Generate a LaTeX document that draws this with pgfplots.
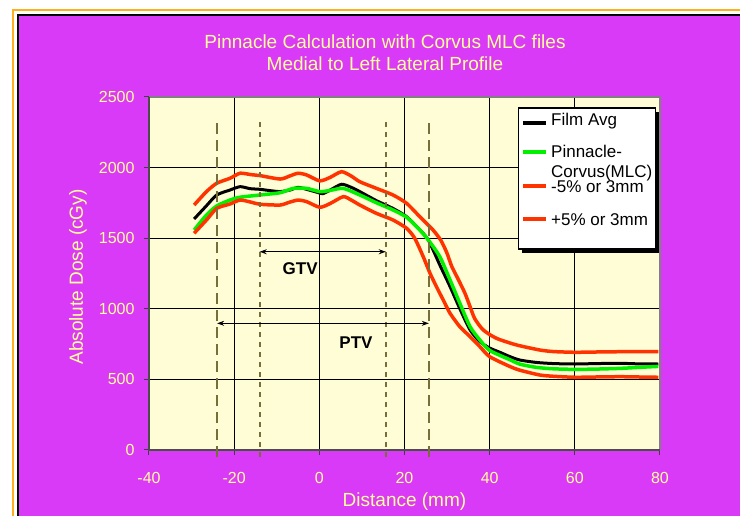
\documentclass[border=0pt]{standalone}
\usepackage{pgfplots}
\pgfplotsset{compat=1.18}
\usepackage{fontspec}
\setmainfont{Liberation Sans}
\usetikzlibrary{arrows.meta}
\definecolor{bgmag}{RGB}{217,58,248}
\definecolor{plotbg}{RGB}{255,253,213}
\definecolor{txtyel}{RGB}{255,255,153}
\definecolor{myred}{RGB}{255,51,0}
\definecolor{mygreen}{RGB}{0,240,0}
\definecolor{dashc}{RGB}{120,110,60}
\definecolor{bord}{RGB}{255,175,30}
\begin{document}
\begin{tikzpicture}
\useasboundingbox (0pt,0pt) rectangle (740pt,516pt);
\fill[white] (0pt,0pt) rectangle (740pt,516pt);
\draw[bord, line width=1.5pt] (13pt,-10pt) rectangle (760pt,506pt);
\fill[bgmag] (18pt,-10pt) rectangle (760pt,501pt);
\draw[black, line width=2.5pt] (18pt,-10pt) -- (18pt,501pt) -- (760pt,501pt);
\node[txtyel, font=\fontsize{19}{22}\selectfont, align=center] at (385pt,463pt) {Pinnacle Calculation with Corvus MLC files\\Medial to Left Lateral Profile};
\begin{axis}[
  at={(149pt,66pt)}, anchor=south west, scale only axis,
  width=511pt, height=353pt,
  xmin=-40, xmax=80, ymin=0, ymax=2500,
  xtick={-40,-20,...,80}, ytick={0,500,...,2500},
  grid=major, grid style={black, line width=0.7pt},
  axis background/.style={fill=plotbg},
  axis line style={draw=none},
  tick align=outside, tick pos=left, major tick length=5pt,
  tick style={draw=black!75, line width=1pt},
  ticklabel style={txtyel, font=\fontsize{16}{19}\selectfont},
  xticklabel style={yshift=-14pt},
  yticklabel style={xshift=-6pt},
  /pgf/number format/assume math mode=true,
  /pgf/number format/1000 sep={},
  xlabel={Distance (mm)}, ylabel={Absolute Dose (cGy)},
  xlabel style={at={(axis description cs:0.5,-0.145)}, anchor=center, txtyel, font=\fontsize{19}{22}\selectfont},
  ylabel style={at={(axis description cs:-0.139,0.49)}, anchor=center, txtyel, font=\fontsize{19}{22}\selectfont},
  clip=false,
]
\draw[black!50, line width=1.5pt] (rel axis cs:0,1) -- (rel axis cs:1,1) -- (rel axis cs:1,0);
\draw[black!70, line width=2pt] (rel axis cs:0,1) -- (rel axis cs:0,0) -- (rel axis cs:1,0);

\addplot[black, line width=3pt, smooth, tension=0.4] coordinates {
(-29.4,1636) (-26.5,1730) (-24.1,1806) (-21,1841) (-18.6,1865) (-16.3,1851) (-13.9,1846) (-11.6,1837) (-9.2,1830) (-6.9,1841) (-5,1860) (-3,1846) (-0.5,1825) (0.8,1815) (2.5,1840) (5.2,1882) (7.5,1860) (9.5,1830) (13.4,1766) (17.3,1711) (20.5,1652) (23.6,1558) (25.6,1487) (28.3,1310) (30.7,1157) (33,1000) (35.4,850) (37.7,767) (40,722) (42.4,692) (44.7,662) (47.1,637) (51,620) (55,612) (60,609) (65,612) (70.6,614) (75,610) (79.6,609)};
\addplot[mygreen, line width=3.5pt, smooth, tension=0.4] coordinates {
(-29.4,1558) (-26.5,1664) (-24.1,1728) (-21,1770) (-18.6,1790) (-13.9,1806) (-9.2,1822) (-6.1,1853) (-3,1853) (0.1,1830) (2.5,1838) (5.6,1853) (9.5,1806) (13.4,1751) (17.3,1700) (20.5,1648) (23.6,1558) (25.6,1487) (28.3,1369) (30.7,1204) (33,1039) (35.4,873) (37.7,779) (40,705) (44.7,640) (47.1,608) (51,585) (55,575) (60,571) (65,573) (70.6,578) (75,585) (79.6,592)};
\addplot[myred, line width=3.5pt, smooth, tension=0.4] coordinates {
(-29.4,1535) (-26.5,1629) (-24.1,1711) (-21,1742) (-18.6,1770) (-16,1755) (-13.9,1740) (-9.2,1735) (-7,1755) (-5,1770) (-3,1759) (0.1,1719) (2.5,1745) (5.6,1794) (7.5,1770) (9.5,1735) (13.4,1676) (17.3,1629) (20.5,1570) (22.4,1500) (24.4,1369) (26,1251) (27.5,1157) (29.1,1062) (30.7,968) (33,873) (35.4,803) (37.7,732) (40,661) (44.7,592) (47.1,565) (51.8,531) (55,522) (60,515) (65,517) (70.6,519) (75,517) (79.6,515)};
\addplot[myred, line width=3.5pt, smooth, tension=0.4] coordinates {
(-29.4,1735) (-26.5,1830) (-24.1,1889) (-21,1924) (-18.6,1960) (-16,1950) (-13.9,1943) (-9.2,1919) (-7,1940) (-5,1960) (-3,1948) (0.1,1906) (2.5,1930) (5.2,1971) (7.5,1940) (9.5,1900) (13.4,1853) (17.3,1806) (20.5,1747) (23.6,1652) (26.7,1558) (28.5,1487) (29.9,1400) (31.1,1300) (32.6,1210) (34.2,1110) (35.4,1015) (36.5,930) (38.5,850) (41.6,791) (46.3,744) (51.8,708) (55,697) (60,692) (65,694) (70.6,696) (75,696) (79.6,696)};

\addplot[dashc, line width=2pt, dash pattern=on 11pt off 6pt] coordinates {(-24,-50) (-24,2337)};
\addplot[dashc, line width=2pt, dash pattern=on 5pt off 5pt] coordinates {(-14,-50) (-14,2337)};
\addplot[dashc, line width=2pt, dash pattern=on 5pt off 5pt] coordinates {(15.6,-50) (15.6,2337)};
\addplot[dashc, line width=2pt, dash pattern=on 11pt off 6pt] coordinates {(25.7,-50) (25.7,2337)};

\addplot[black, line width=0.8pt, {Stealth[length=7pt,width=5pt]}-{Stealth[length=7pt,width=5pt]}] coordinates {(-14,1404) (15.6,1404)};
\addplot[black, line width=0.8pt, {Stealth[length=7pt,width=5pt]}-{Stealth[length=7pt,width=5pt]}] coordinates {(-24,897) (25.7,897)};
\node[font=\bfseries\fontsize{17}{20}\selectfont] at (axis cs:-4.5,1285) {GTV};
\node[font=\bfseries\fontsize{17}{20}\selectfont] at (axis cs:8.6,761) {PTV};
\end{axis}
% legend
\fill[black] (522pt,263pt) rectangle (659pt,404pt);
\draw[black, line width=1.2pt, fill=white] (518.5pt,267pt) rectangle (655.5pt,408pt);
\draw[black, line width=4pt] (523pt,393.3pt) -- (546pt,393.3pt);
\draw[mygreen, line width=4pt] (523pt,364.3pt) -- (546pt,364.3pt);
\draw[myred, line width=4pt] (523pt,330.3pt) -- (546pt,330.3pt);
\draw[myred, line width=4pt] (523pt,297pt) -- (546pt,297pt);
\begin{scope}[every node/.style={anchor=base west, inner sep=0pt, font=\fontsize{17}{20}\selectfont, text=black}]
\node at (551pt,390pt) {Film Avg};
\node at (551pt,358pt) {Pinnacle-};
\node at (551pt,338pt) {Corvus(MLC)};
\node at (551pt,323pt) {-5\% or 3mm};
\node at (551pt,290pt) {+5\% or 3mm};
\end{scope}
\end{tikzpicture}
\end{document}
